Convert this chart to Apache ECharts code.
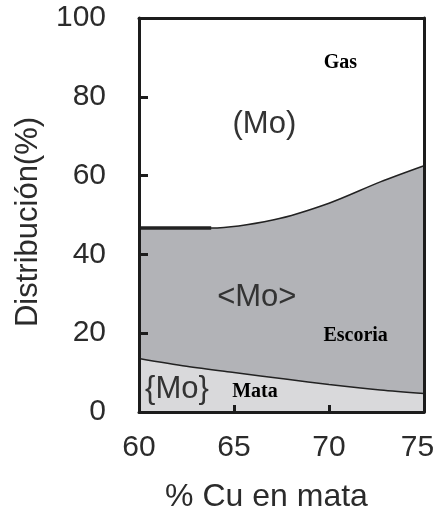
<!DOCTYPE html>
<html>
<head>
<meta charset="utf-8">
<script src="https://cdn.jsdelivr.net/npm/echarts@6/dist/echarts.min.js"></script>
<style>
  html, body { margin: 0; padding: 0; background: #fff; }
  #chart { width: 439px; height: 508px; }
</style>
</head>
<body>
<div id="chart"></div>
<script>
// % Cu in matte (x) and boundaries of the Mo distribution (%)
const escoriaX = [60, 63.8, 67.1, 70.0, 72.7, 75];
const escoriaTop = [46.7, 46.7, 48.8, 53.0, 58.4, 62.5];
const mataX = [60, 62.5, 65.0, 67.8, 70.0, 72.7, 75];
const mataTop = [13.6, 11.6, 10.0, 8.3, 7.0, 5.6, 4.7];

const xTicks = [60, 65, 70, 75];
const yTicks = [0, 20, 40, 60, 80, 100];

// Region labels: [text, x, y, style]
const regionLabels = [
  ['(Mo)', 66.6, 73.0, 'sans'],
  ['<Mo>', 66.2, 29.0, 'sans'],
  ['{Mo}', 62.0, 5.8, 'sans'],
  ['Gas', 70.6, 88.6, 'serif'],
  ['Escoria', 71.4, 19.3, 'serif'],
  ['Mata', 66.1, 5.1, 'serif']
];

const zip = (xs, ys) => xs.map((x, i) => [x, ys[i]]);
const frame = { show: true, onZero: false, lineStyle: { color: '#1c1c1c', width: 3 } };
const sans = 'Liberation Sans, Arial, sans-serif';
const lastX = xTicks[xTicks.length - 1];

const chart = echarts.init(document.getElementById('chart'));
chart.setOption({
  animation: false,
  grid: { left: 139, right: 15, top: 18, bottom: 96, containLabel: false, outerBoundsMode: 'none' },
  xAxis: [
    {
      type: 'value', min: 60, max: 75, interval: 5, z: 10,
      axisLine: frame,
      axisTick: { show: true, inside: true, length: 7, lineStyle: { color: '#1c1c1c', width: 3 } },
      axisLabel: {
        margin: 21, fontFamily: sans, fontSize: 30, color: '#2b2b2b',
        formatter: v => !xTicks.includes(v) ? '' : (v === lastX ? '{edge|' + v + '}' : String(v)),
        rich: { edge: { fontFamily: sans, fontSize: 30, color: '#2b2b2b', padding: [0, 13, 0, 0] } }
      },
      splitLine: { show: false },
      name: '% Cu en mata', nameLocation: 'middle', nameGap: 69,
      nameTextStyle: { fontFamily: sans, fontSize: 32, color: '#2b2b2b', padding: [0, 30, 0, 0] }
    },
    {
      type: 'value', position: 'top', min: 60, max: 75, z: 10,
      axisLine: frame, axisTick: { show: false }, axisLabel: { show: false }, splitLine: { show: false }
    }
  ],
  yAxis: [
    {
      type: 'value', min: 0, max: 100, interval: 20, z: 10,
      axisLine: frame,
      axisTick: { show: true, inside: true, length: 9, lineStyle: { color: '#1c1c1c', width: 3 } },
      axisLabel: { margin: 33, fontFamily: sans, fontSize: 30, color: '#2b2b2b', padding: [6, 0, 0, 0],
                   formatter: v => yTicks.includes(v) ? String(v) : '' },
      splitLine: { show: false },
      name: 'Distribución(%)', nameLocation: 'middle', nameGap: 95,
      nameTextStyle: { fontFamily: sans, fontSize: 31, color: '#2b2b2b', padding: [0, 14, 0, 0] }
    },
    {
      type: 'value', position: 'right', min: 0, max: 100, z: 10,
      axisLine: frame, axisTick: { show: false }, axisLabel: { show: false }, splitLine: { show: false }
    }
  ],
  series: [
    {
      name: 'Escoria', type: 'line', z: 2,
      data: zip(escoriaX, escoriaTop),
      smooth: 0.3, symbol: 'none',
      lineStyle: { color: '#222', width: 1.5 },
      areaStyle: { color: '#b2b3b7', opacity: 1 }
    },
    {
      name: 'Escoria plateau', type: 'line', z: 3,
      data: zip(escoriaX.slice(0, 2), escoriaTop.slice(0, 2)),
      symbol: 'none',
      lineStyle: { color: '#222', width: 3.5 }
    },
    {
      name: 'Mata', type: 'line', z: 4,
      data: zip(mataX, mataTop),
      smooth: 0.3, symbol: 'none',
      lineStyle: { color: '#222', width: 1.5 },
      areaStyle: { color: '#d9d9db', opacity: 1 }
    },
    {
      name: 'labels', type: 'scatter', z: 6,
      symbolSize: 0, silent: true,
      itemStyle: { opacity: 1 },
      data: regionLabels.map(r => ({
        value: [r[1], r[2]],
        label: {
          show: true, position: 'inside', formatter: r[0], opacity: 1,
          fontFamily: r[3] === 'serif' ? 'Liberation Serif, Times New Roman, serif' : sans,
          fontWeight: r[3] === 'serif' ? 'bold' : 'normal',
          fontSize: r[3] === 'serif' ? 20 : 31,
          color: r[3] === 'serif' ? '#000' : '#333'
        }
      }))
    }
  ]
});
</script>
</body>
</html>
